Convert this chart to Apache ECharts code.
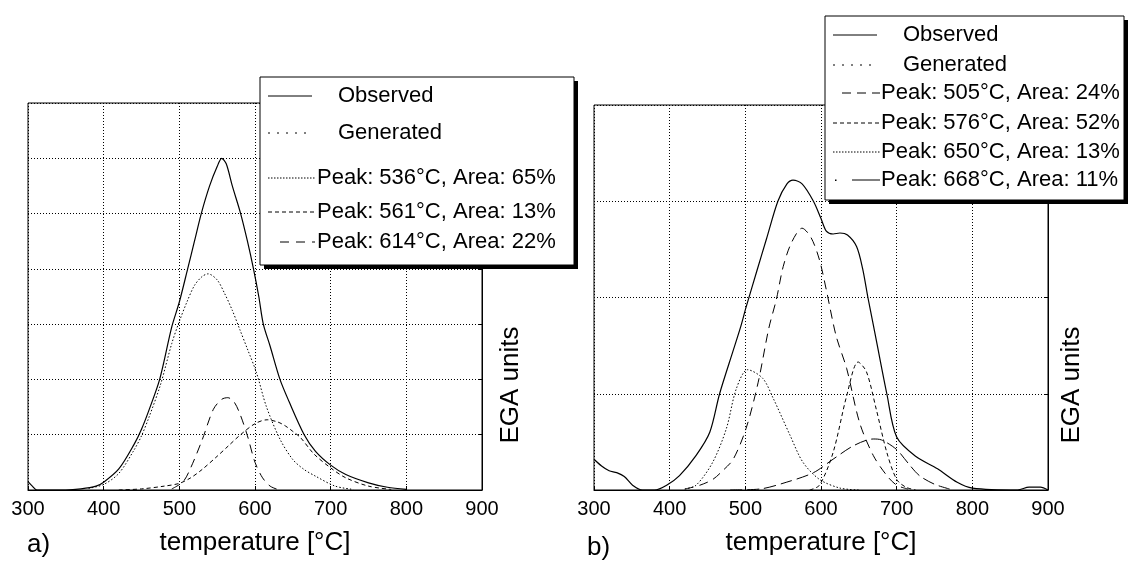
<!DOCTYPE html>
<html>
<head>
<meta charset="utf-8">
<script src="https://cdn.jsdelivr.net/npm/echarts@6/dist/echarts.min.js"></script>
<style>
html, body { margin: 0; padding: 0; background: #fff; }
#main { width: 1128px; height: 561px; }
</style>
</head>
<body>
<div id="main"></div>
<script>
// x axis ticks (both panels)
var tempTicks = [300, 400, 500, 600, 700, 800, 900];

// panel a) observed curve
var tempObsA = [300, 305, 312, 350, 370, 390, 400, 420, 440, 450, 460, 474, 490, 500, 511, 520, 529, 540, 550, 556, 562, 570, 581, 590, 598, 605, 611, 620, 633, 645, 665, 680, 700, 720, 750, 775, 800];
var obsA = [0.15, 0.08, 0, 0, 0.02, 0.07, 0.14, 0.38, 0.82, 1.1, 1.45, 2.0, 2.95, 3.4, 4.0, 4.5, 5.0, 5.5, 5.85, 6.0, 5.9, 5.5, 5.0, 4.5, 4.0, 3.5, 3.0, 2.6, 2.0, 1.6, 1.0, 0.7, 0.45, 0.28, 0.13, 0.05, 0.01];
// panel a) peak 536 (dotted)
var tempP536 = [380, 400, 420, 440, 450, 460, 475, 490, 500, 510, 520, 530, 538, 550, 560, 570, 580, 590, 602, 615, 633, 650, 665, 680, 706, 730];
var p536 = [0.03, 0.1, 0.3, 0.72, 0.98, 1.32, 1.9, 2.65, 3.05, 3.4, 3.7, 3.86, 3.91, 3.8, 3.55, 3.25, 2.9, 2.55, 2.12, 1.51, 0.92, 0.55, 0.37, 0.25, 0.07, 0.01];
// panel a) peak 561 (long dash)
var tempP561 = [490, 505, 515, 530, 545, 556, 564, 572, 580, 590, 600, 610, 620, 630];
var p561 = [0.02, 0.15, 0.4, 0.9, 1.46, 1.64, 1.67, 1.6, 1.38, 0.98, 0.5, 0.22, 0.07, 0.01];
// panel a) peak 614 (short dash)
var tempP614 = [420, 450, 480, 500, 515, 530, 550, 565, 580, 600, 616, 630, 640, 650, 660, 678, 700, 720, 750, 780];
var p614 = [0.0, 0.02, 0.07, 0.12, 0.22, 0.37, 0.61, 0.8, 0.99, 1.2, 1.27, 1.23, 1.16, 1.06, 0.95, 0.65, 0.4, 0.22, 0.07, 0.01];

// panel b) observed curve
var tempObsB = [300, 310, 320, 330, 340, 351, 364, 380, 396, 413, 435, 453, 466, 484, 494, 501, 515, 528, 543, 555, 563, 575, 590, 600, 607, 616, 625, 635, 647, 655, 662, 669, 673, 687, 700, 725, 754, 780, 800, 860, 875, 890, 900];
var obsB = [0.32, 0.25, 0.2, 0.18, 0.14, 0.05, 0.0, 0.0, 0.05, 0.15, 0.36, 0.6, 1.0, 1.45, 1.7, 1.9, 2.27, 2.61, 3.0, 3.18, 3.22, 3.18, 3.0, 2.82, 2.69, 2.66, 2.67, 2.65, 2.53, 2.3, 2.0, 1.72, 1.56, 1.0, 0.55, 0.35, 0.22, 0.08, 0.02, 0.0, 0.03, 0.03, 0.0];
// panel b) peak 505 (dotted)
var tempP505 = [420, 435, 457, 475, 488, 503, 523, 537, 559, 576, 598, 625, 650];
var p505 = [0.01, 0.05, 0.29, 0.64, 1.05, 1.25, 1.16, 0.95, 0.57, 0.29, 0.11, 0.02, 0];
// panel b) peak 576 (long dash)
var tempP576 = [420, 440, 457, 470, 484, 501, 517, 531, 541, 550, 561, 575, 587, 598, 607, 620, 634, 651, 669, 687, 700, 715];
var p576 = [0.01, 0.05, 0.11, 0.2, 0.32, 0.64, 1.12, 1.68, 1.98, 2.32, 2.57, 2.72, 2.62, 2.39, 2.08, 1.6, 1.26, 0.7, 0.36, 0.15, 0.05, 0.01];
// panel b) peak 650 (short dash)
var tempP650 = [585, 598, 616, 634, 649, 660, 673, 687, 700, 712, 725];
var p650 = [0.0, 0.05, 0.39, 0.98, 1.33, 1.23, 0.84, 0.39, 0.11, 0.03, 0];
// panel b) peak 668 (dash dot)
var tempP668 = [480, 519, 554, 590, 616, 643, 669, 680, 700, 715, 730, 750, 770];
var p668 = [0.0, 0.01, 0.08, 0.18, 0.32, 0.46, 0.53, 0.52, 0.42, 0.28, 0.15, 0.06, 0.01];

// legend texts
var legendA = ['Observed', 'Generated', 'Peak: 536°C, Area: 65%', 'Peak: 561°C, Area: 13%', 'Peak: 614°C, Area: 22%'];
var legendB = ['Observed', 'Generated', 'Peak: 505°C, Area: 24%', 'Peak: 576°C, Area: 52%', 'Peak: 650°C, Area: 13%', 'Peak: 668°C, Area: 11%'];

var FONT = 'Liberation Sans, Arial, sans-serif';

function pairs(xs, ys) {
	var out = [];
	for (var i = 0; i < xs.length; i++) {
		out.push([xs[i], ys[i]]);
	}
	return out;
}

function lineSeries(idx, xs, ys, dash, width) {
	return {
		type: 'line',
		xAxisIndex: idx,
		yAxisIndex: idx,
		data: pairs(xs, ys),
		showSymbol: false,
		smooth: 0.3,
		silent: true,
		lineStyle: { color: '#000', width: width || 1, type: dash }
	};
}

function xAxisFor(idx) {
	return {
		type: 'value',
		gridIndex: idx,
		min: tempTicks[0],
		max: tempTicks[tempTicks.length - 1],
		interval: tempTicks[1] - tempTicks[0],
		name: 'temperature [°C]',
		nameLocation: 'middle',
		nameGap: 40,
		nameTextStyle: { color: '#000', fontSize: 26, fontFamily: FONT },
		axisLine: { lineStyle: { color: '#000', width: 1 } },
		axisTick: { inside: true, length: 4, lineStyle: { color: '#000' } },
		axisLabel: { color: '#000', fontSize: 20, fontFamily: FONT, margin: 9 },
		splitLine: { show: true, lineStyle: { color: '#000', width: 1, type: [1, 2] } }
	};
}

function yAxisFor(idx, max) {
	return {
		type: 'value',
		gridIndex: idx,
		position: 'right',
		min: 0,
		max: max,
		interval: 1,
		axisLine: { show: true, lineStyle: { color: '#000', width: 1 } },
		axisTick: { show: true, inside: true, length: 4, lineStyle: { color: '#000' } },
		axisLabel: { show: false },
		splitLine: { show: true, lineStyle: { color: '#000', width: 1, type: [1, 2] } }
	};
}

// legend box drawn as graphic: box + shadow, sample lines, texts
function legendBox(box, rows, samples) {
	var els = [];
	els.push({ type: 'rect', shape: { x: box.x + 4, y: box.y + 4, width: box.w, height: box.h }, style: { fill: '#000' }, z: 100 });
	els.push({ type: 'rect', shape: { x: box.x, y: box.y, width: box.w, height: box.h }, style: { fill: '#fff', stroke: '#000', lineWidth: 1 }, z: 101 });
	for (var i = 0; i < rows.length; i++) {
		var s = samples[i];
		els.push({
			type: 'line',
			shape: { x1: s.x1, y1: s.y, x2: s.x2, y2: s.y },
			style: { stroke: '#000', lineWidth: 1, lineDash: s.dash },
			z: 102
		});
		if (s.dot) {
			els.push({ type: 'rect', shape: { x: s.dot, y: s.y - 0.5, width: 1.5, height: 1.5 }, style: { fill: '#000' }, z: 102 });
		}
		els.push({
			type: 'text',
			x: s.tx,
			y: s.y,
			style: { text: rows[i], fill: '#000', font: '22px ' + FONT, textVerticalAlign: 'middle' },
			z: 102
		});
	}
	return els;
}

var graphicA = legendBox({ x: 260, y: 77, w: 314, h: 188 }, legendA, [
	{ x1: 268, x2: 312, y: 96, tx: 338 },
	{ x1: 268, x2: 312, y: 133, tx: 338, dash: [2, 7] },
	{ x1: 268, x2: 315, y: 178, tx: 317, dash: [1.5, 1.5] },
	{ x1: 268, x2: 315, y: 212, tx: 317, dash: [4, 3] },
	{ x1: 280, x2: 315, y: 242, tx: 317, dash: [9, 7] }
]);
var graphicB = legendBox({ x: 825, y: 16, w: 299, h: 184 }, legendB, [
	{ x1: 833, x2: 877, y: 35, tx: 903 },
	{ x1: 833, x2: 877, y: 65, tx: 903, dash: [2, 7] },
	{ x1: 842, x2: 880, y: 93, tx: 881, dash: [9, 6] },
	{ x1: 833, x2: 880, y: 123, tx: 881, dash: [4, 3] },
	{ x1: 833, x2: 880, y: 152, tx: 881, dash: [1.5, 1.5] },
	{ x1: 852, x2: 880, y: 180, tx: 881, dot: 835 }
]);

// panel letters and y axis titles
var labels = [
	{ type: 'text', x: 27, y: 545, style: { text: 'a)', fill: '#000', font: '26px ' + FONT, textVerticalAlign: 'middle' } },
	{ type: 'text', x: 587, y: 548, style: { text: 'b)', fill: '#000', font: '26px ' + FONT, textVerticalAlign: 'middle' } },
	{ type: 'text', x: 511, y: 385, rotation: Math.PI / 2, style: { text: 'EGA units', fill: '#000', font: '26px ' + FONT, textAlign: 'center', textVerticalAlign: 'middle' } },
	{ type: 'text', x: 1072, y: 385, rotation: Math.PI / 2, style: { text: 'EGA units', fill: '#000', font: '26px ' + FONT, textAlign: 'center', textVerticalAlign: 'middle' } }
];

var myChart = echarts.init(document.getElementById('main'), null, { renderer: 'canvas' });
var option = {
	animation: false,
	backgroundColor: '#fff',
	grid: [
		{ left: 28, right: 646, top: 103, bottom: 70, show: true, borderColor: '#000', borderWidth: 1, backgroundColor: '#fff' },
		{ left: 594, right: 80, top: 105, bottom: 70, show: true, borderColor: '#000', borderWidth: 1, backgroundColor: '#fff' }
	],
	xAxis: [xAxisFor(0), xAxisFor(1)],
	yAxis: [yAxisFor(0, 7), yAxisFor(1, 4)],
	series: [
		lineSeries(0, tempObsA, obsA, 'solid', 1.2),
		lineSeries(0, tempP536, p536, [1.5, 2]),
		lineSeries(0, tempP561, p561, [9, 6]),
		lineSeries(0, tempP614, p614, [4, 3]),
		lineSeries(1, tempObsB, obsB, 'solid', 1.2),
		lineSeries(1, tempP505, p505, [1.5, 2]),
		lineSeries(1, tempP576, p576, [9, 6]),
		lineSeries(1, tempP650, p650, [4, 3]),
		lineSeries(1, tempP668, p668, [12, 5])
	],
	graphic: graphicA.concat(graphicB, labels)
};
myChart.setOption(option);
</script>
</body>
</html>
